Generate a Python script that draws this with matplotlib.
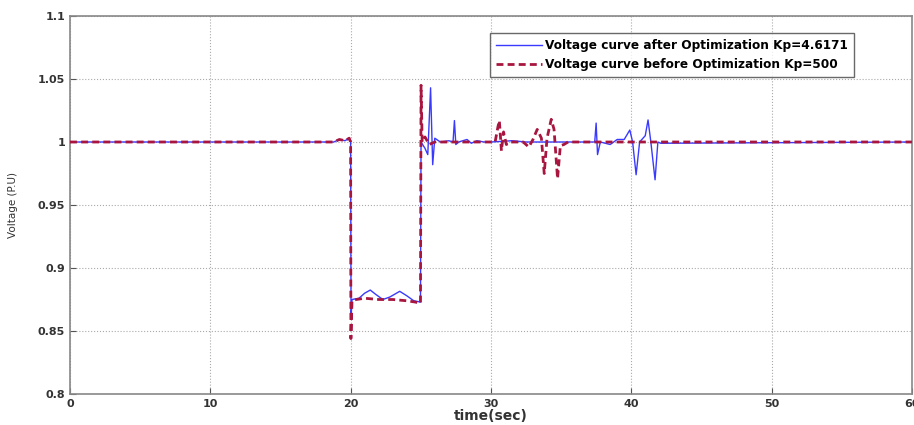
import matplotlib
matplotlib.use("Agg")
import matplotlib.pyplot as plt

# voltage after optimization (Kp=4.6171)
t_after = [0, 18.8, 19.2, 19.6, 19.9, 20.0, 20.03, 20.1, 20.6, 21.0, 21.4, 21.8, 22.3,
           22.8, 23.5, 24.0, 24.5, 24.98, 25.02, 25.3, 25.5, 25.7, 25.85, 26.0, 26.4,
           27.0, 27.3, 27.4, 27.5, 27.7, 28.3, 28.6, 29.0, 29.5, 30.0, 31.5, 32.5, 33.5,
           35.0, 36.5, 37.4, 37.5, 37.6, 37.8, 38.5, 39.0, 39.5, 39.9, 40.1, 40.35, 40.6,
           41.0, 41.2, 41.4, 41.7, 41.9, 42.1, 60]
v_after = [1.0, 1.0, 1.002, 1.001, 1.003, 1.0, 0.86, 0.875, 0.876, 0.88, 0.8825, 0.879, 0.875,
           0.877, 0.8815, 0.878, 0.874, 0.873, 1.0, 0.995, 0.99, 1.043, 0.982, 1.003, 1.0,
           1.001, 1.0, 1.017, 0.998, 1.0, 1.002, 0.999, 1.001, 1.0, 1.0, 1.001, 1.0, 1.0,
           1.0, 1.0, 1.0, 1.015, 0.99, 1.0, 0.998, 1.002, 1.002, 1.0095, 1.0, 0.974, 1.0,
           1.005, 1.0175, 1.0, 0.970, 1.0, 0.999, 1.0]

# voltage before optimization (Kp=500)
t_before = [0, 18.8, 19.2, 19.6, 19.9, 20.0, 20.02, 20.1, 20.4, 21.0, 22.0, 23.0, 24.0,
            24.6, 24.98, 25.02, 25.1, 25.3, 25.6, 26.0, 27.0, 28.0, 29.0, 30.3, 30.5,
            30.6, 30.75, 30.9, 31.1, 31.4, 32.3, 32.7, 33.0, 33.3, 33.6, 33.8, 34.0, 34.3,
            34.5, 34.75, 34.95, 35.2, 35.5, 60]
v_before = [1.0, 1.0, 1.002, 1.001, 1.003, 1.0, 0.844, 0.874, 0.875, 0.876, 0.875, 0.875, 0.874,
            0.873, 0.872, 1.045, 1.0, 1.004, 0.998, 1.0, 1.0, 1.0, 1.0, 1.0, 1.012,
            1.017, 0.993, 1.008, 0.998, 1.0, 1.0, 0.996, 1.002, 1.01, 1.003, 0.975, 1.003, 1.018,
            1.01, 0.971, 0.997, 0.998, 1.0, 1.0]

xticks = [0, 10, 20, 30, 40, 50, 60]
yticks = [0.8, 0.85, 0.9, 0.95, 1.0, 1.05, 1.1]
ytick_labels = ["0.8", "0.85", "0.9", "0.95", "1", "1.05", "1.1"]

fig = plt.figure(figsize=(9.14, 4.25), dpi=100)
ax = fig.add_axes([0.0766, 0.0729, 0.921, 0.8895])

ax.plot(t_after, v_after, color="#3a3aff", lw=1.0,
        label="Voltage curve after Optimization Kp=4.6171", zorder=3)
ax.plot(t_before, v_before, color="#a8163f", lw=2.0, ls=(0, (2.5, 1.5)),
        label="Voltage curve before Optimization Kp=500", zorder=4)

ax.set_xlim(0, 60)
ax.set_ylim(0.8, 1.1)
ax.set_xticks(xticks)
ax.set_xticklabels([str(v) for v in xticks], fontsize=8, fontweight="bold", color="#333333")
ax.set_yticks(yticks)
ax.set_yticklabels(ytick_labels, fontsize=8, fontweight="bold", color="#333333")
ax.tick_params(direction="in", length=4, color="#555555")
ax.grid(True, ls=":", color="#aaaaaa", lw=0.8)
for sp in ax.spines.values():
    sp.set_color("#888888")
    sp.set_linewidth(1.2)

ax.set_xlabel("time(sec)", fontsize=10, fontweight="bold", color="#333333", labelpad=0)
ax.set_ylabel("Voltage (P.U)", fontsize=7.5, color="#333333", labelpad=14)

leg = ax.legend(loc="upper right", bbox_to_anchor=(0.939, 0.97), fancybox=False,
                edgecolor="#444444", prop={"size": 8.7, "weight": "bold"},
                handlelength=3.8, handletextpad=0.3, borderpad=0.5, labelspacing=0.5)
leg.get_frame().set_linewidth(1.0)

fig.savefig("out.png", dpi=100)
